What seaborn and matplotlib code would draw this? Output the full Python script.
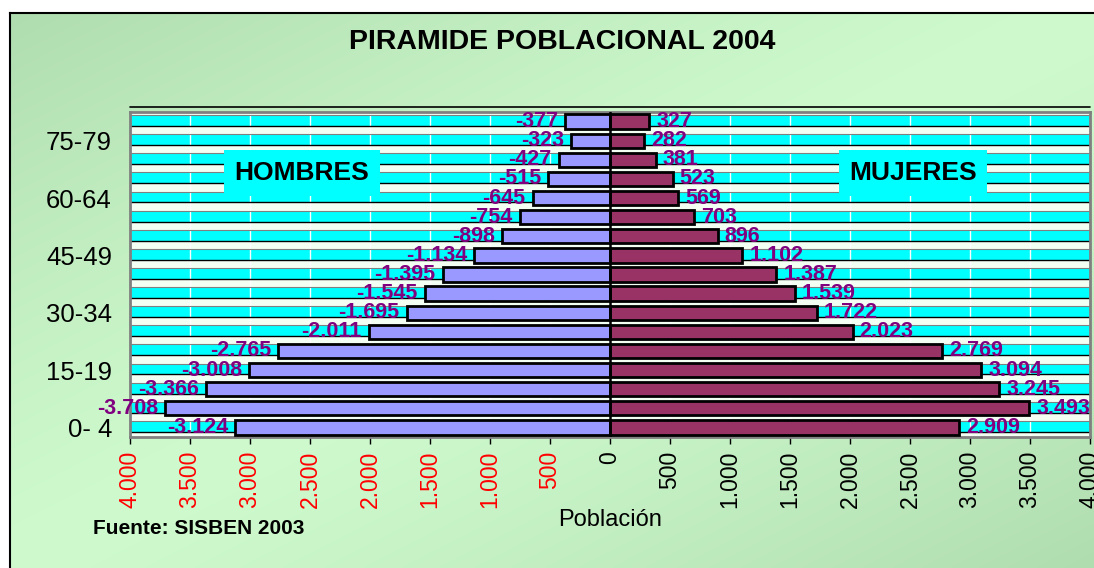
import numpy as np
import pandas as pd
import matplotlib
matplotlib.use("Agg")
import matplotlib.pyplot as plt
import seaborn as sns

# ---------------- data ----------------
edades = ["0- 4", "5-9", "10-14", "15-19", "20-24", "25-29", "30-34", "35-39",
          "40-44", "45-49", "50-54", "55-59", "60-64", "65-69", "70-74", "75-79", "80+"]
hombres = [3124, 3708, 3366, 3008, 2765, 2011, 1695, 1545, 1395, 1134, 898, 754,
           645, 515, 427, 323, 377]
mujeres = [2909, 3493, 3245, 3094, 2769, 2023, 1722, 1539, 1387, 1102, 896, 703,
           569, 523, 381, 282, 327]
ticks_x = list(range(-4000, 4001, 500))
etiquetas_y = ["0- 4", "15-19", "30-34", "45-49", "60-64", "75-79"]

titulo = "PIRAMIDE POBLACIONAL 2004"
fuente = "Fuente: SISBEN 2003"


def fmt(v):
    return f"{v:,}".replace(",", ".")


sns.set_style("white")
plt.rcParams["font.family"] = ["Liberation Sans", "DejaVu Sans"]
plt.rcParams["text.color"] = "black"
plt.rcParams["axes.labelcolor"] = "black"
plt.rcParams["xtick.color"] = "black"
plt.rcParams["ytick.color"] = "black"

W, H = 1094, 568
fig = plt.figure(figsize=(W / 100, H / 100), dpi=100)
fig.patch.set_facecolor("white")

# -------- background panel with gradient --------
bg = fig.add_axes([10 / W, 0, 1 - 10 / W, 1 - 13 / H], zorder=0)
gx, gy = np.meshgrid(np.linspace(0, 1, 400), np.linspace(0, 1, 200))
u = (gx + gy) / 2
t = np.abs(u - 0.5) * 2
dark = np.array([176, 221, 176]) / 255
light = np.array([206, 250, 206]) / 255
img = light + (dark - light) * (t[..., None] ** 1.3)
bg.imshow(img, aspect="auto", extent=[0, 1, 0, 1], origin="upper")
bg.set_xticks([])
bg.set_yticks([])
for s in ["right", "bottom"]:
    bg.spines[s].set_visible(False)
for s in ["left", "top"]:
    bg.spines[s].set_color("black")
    bg.spines[s].set_linewidth(1.5)

# -------- main axes --------
ax = fig.add_axes([130 / W, 1 - 437 / H, 960 / W, 325 / H], zorder=1)
ax.set_facecolor("#F4FFF4")

orden = edades[::-1]
n = len(edades)
for p in range(n):
    ax.axhspan(p - 0.34, p + 0.23, color="#00FFFF", zorder=0.5, lw=0)
    ax.axhline(p + 0.23, color="black", lw=1, zorder=0.7)
    ax.axhline(p - 0.34, color="#808080", lw=0.8, zorder=0.7)
for xv in ticks_x:
    ax.axvline(xv, color="white", lw=1, zorder=0.6)

df = pd.DataFrame({"edad": edades,
                   "hombres": [-v for v in hombres],
                   "mujeres": mujeres})

sns.barplot(data=df, x="hombres", y="edad", order=orden, orient="h",
            color="#9999FF", edgecolor="black", linewidth=2, width=0.75,
            errorbar=None, saturation=1, ax=ax, zorder=3)
sns.barplot(data=df, x="mujeres", y="edad", order=orden, orient="h",
            color="#993366", edgecolor="black", linewidth=2, width=0.75,
            errorbar=None, saturation=1, ax=ax, zorder=3)

lab_h = ["-" + fmt(v) for v in hombres[::-1]]
lab_m = [fmt(v) for v in mujeres[::-1]]
ax.bar_label(ax.containers[0], labels=lab_h, padding=5, color="#800080",
             fontsize=15.5, fontweight="bold", zorder=5)
ax.bar_label(ax.containers[1], labels=lab_m, padding=5, color="#800080",
             fontsize=15.5, fontweight="bold", zorder=5)

ax.axvline(0, color="black", lw=1.8, zorder=4)

ax.set_xlim(-4000, 4000)
ax.set_ylim(n - 0.5, -0.5)
ax.set_xlabel("")
ax.set_ylabel("")

ax.set_xticks(ticks_x)
ax.set_xticklabels([fmt(abs(v)) for v in ticks_x], rotation=90, fontsize=16.5)
for lbl, v in zip(ax.get_xticklabels(), ticks_x):
    lbl.set_color("#FF0000" if v < 0 else "black")
ax.tick_params(axis="x", direction="out", length=5, width=1, color="black",
               pad=5, bottom=True)

ax.set_yticks([n - 1 - edades.index(l) for l in etiquetas_y])
ax.set_yticklabels(etiquetas_y, fontsize=18.5)
ax.tick_params(axis="y", length=0, pad=13)

for s in ax.spines.values():
    s.set_color("#808080")
    s.set_linewidth(2)

ax.plot([0, 1], [1 + 5 / 325] * 2, transform=ax.transAxes, color="black",
        lw=1.2, clip_on=False, zorder=6)

# -------- texts --------
fig.text(562 / W, 1 - 42 / H, titulo, fontsize=20.5, fontweight="bold",
         ha="center", va="center")
box = dict(facecolor="#00FFFF", edgecolor="none", boxstyle="square,pad=0.4")
fig.text(302 / W, 1 - 173 / H, "HOMBRES", fontsize=19, fontweight="bold",
         ha="center", va="center", bbox=box, zorder=10)
fig.text(913 / W, 1 - 173 / H, "MUJERES", fontsize=19, fontweight="bold",
         ha="center", va="center", bbox=box, zorder=10)
fig.text(610 / W, 1 - 520 / H, "Población", fontsize=17,
         ha="center", va="center")
fig.text(93 / W, 1 - 528 / H, fuente, fontsize=15, fontweight="bold",
         ha="left", va="center")

fig.savefig("out.png", dpi=100, facecolor=fig.get_facecolor())
